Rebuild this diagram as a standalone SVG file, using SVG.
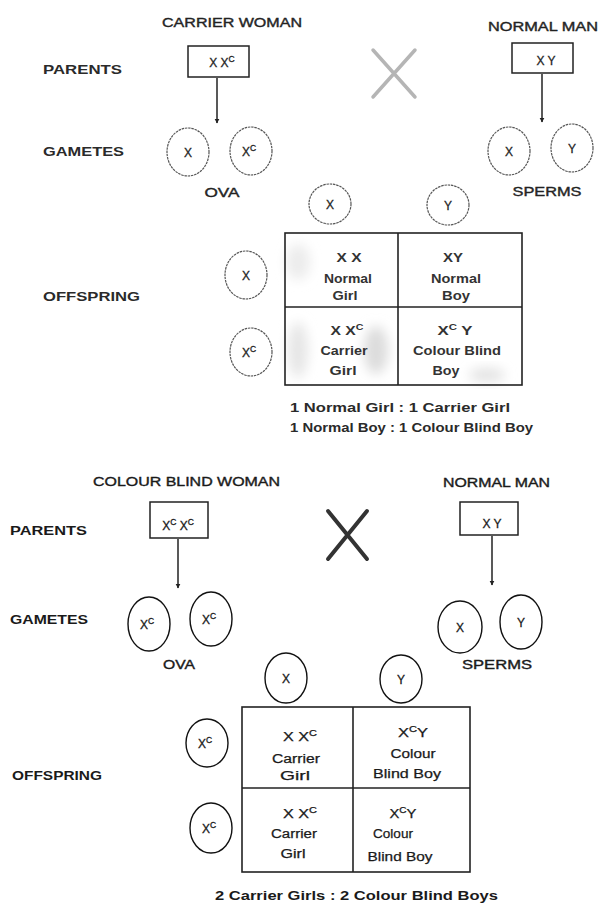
<svg xmlns="http://www.w3.org/2000/svg" width="600" height="903" viewBox="0 0 600 903">
<style>
  text { font-family: "Liberation Sans", Arial, sans-serif; fill: #1a1a1a; }
  .lbl { font-size: 12px; font-weight: bold; }
  .hdr { font-size: 12px; stroke: #1a1a1a; stroke-width: 0.35; }
  .cell { font-size: 12.5px; text-anchor: middle; stroke: #1a1a1a; stroke-width: 0.25; }
  .top .cell { font-weight: bold; fill: #333; stroke: none; }
  .circ { font-size: 12px; text-anchor: middle; stroke: #1a1a1a; stroke-width: 0.3; }
  .ratio { font-size: 12.5px; font-weight: bold; }
  .sup { font-size: 8.5px; }
  .g1 ellipse { fill: none; stroke: #555; stroke-width: 1.2; stroke-dasharray: 2.5 0.8; }
  .g2 ellipse { fill: none; stroke: #111; stroke-width: 1.4; }
  .box { fill: none; stroke: #222; stroke-width: 1.5; }
  .grid { fill: none; stroke: #222; stroke-width: 1.6; }
  .arrow { stroke: #222; stroke-width: 1.5; marker-end: url(#ah); }
  .top text { fill: #2a2a2a; }
</style>
<defs>
  <marker id="ah" viewBox="0 0 8 10" refX="7" refY="5" markerWidth="5" markerHeight="6" orient="auto" markerUnits="userSpaceOnUse">
    <path d="M0,1 L8,5 L0,9 z" fill="#222"/>
  </marker>
  <filter id="blur" x="-50%" y="-50%" width="200%" height="200%">
    <feGaussianBlur stdDeviation="6"/>
  </filter>
</defs>

<rect width="600" height="903" fill="#ffffff"/>

<!-- ================= TOP CROSS ================= -->
<g class="top">
  <g id="lbl-parents-1"><text class="lbl" x="43" y="74" textLength="79" lengthAdjust="spacingAndGlyphs">PARENTS</text></g>
  <g id="lbl-gametes-1"><text class="lbl" x="43" y="156" textLength="81" lengthAdjust="spacingAndGlyphs">GAMETES</text></g>
  <g id="lbl-offspring-1"><text class="lbl" x="43" y="301" textLength="97" lengthAdjust="spacingAndGlyphs">OFFSPRING</text></g>

  <g id="carrier-woman">
    <text class="hdr" x="162" y="27" textLength="140" lengthAdjust="spacingAndGlyphs">CARRIER WOMAN</text>
    <rect class="box" x="188" y="46" width="61" height="31"/>
    <text class="circ" x="222" y="67">X X<tspan class="sup" dy="-5">C</tspan></text>
  </g>
  <g id="normal-man-1">
    <text class="hdr" x="488" y="31" textLength="110" lengthAdjust="spacingAndGlyphs">NORMAL MAN</text>
    <rect class="box" x="512" y="43" width="61" height="30"/>
    <text class="circ" x="546" y="65">X Y</text>
  </g>
  <g id="cross-1">
    <path d="M373,50 L415,97 M415,50 L373,97" stroke="#b5b5b5" stroke-width="3.5" stroke-linecap="round" fill="none"/>
  </g>

  <g id="ova-1" class="g1">
    <ellipse cx="188" cy="152" rx="21" ry="24"/>
    <text class="circ" x="188" y="157">X</text>
    <ellipse cx="251" cy="151" rx="21" ry="24"/>
    <text class="circ" x="249" y="156">X<tspan class="sup" dy="-5">C</tspan></text>
    <text class="hdr" x="222" y="197" text-anchor="middle" textLength="35" lengthAdjust="spacingAndGlyphs">OVA</text>
  </g>
  <g id="sperms-1" class="g1">
    <ellipse cx="509" cy="151" rx="21" ry="24"/>
    <text class="circ" x="509" y="156">X</text>
    <ellipse cx="572" cy="148" rx="21" ry="24"/>
    <text class="circ" x="572" y="153">Y</text>
    <text class="hdr" x="547" y="196" text-anchor="middle" textLength="69" lengthAdjust="spacingAndGlyphs">SPERMS</text>
  </g>

  <g id="punnett-1-heads" class="g1">
    <ellipse cx="330" cy="204" rx="21" ry="20"/>
    <text class="circ" x="330" y="209">X</text>
    <ellipse cx="448" cy="205" rx="21" ry="20"/>
    <text class="circ" x="448" y="210">Y</text>
    <ellipse cx="246" cy="275" rx="21" ry="24"/>
    <text class="circ" x="246" y="280">X</text>
    <ellipse cx="251" cy="352" rx="21" ry="24"/>
    <text class="circ" x="249" y="357">X<tspan class="sup" dy="-5">C</tspan></text>
  </g>

  <g id="punnett-1">
    <ellipse cx="298" cy="262" rx="12" ry="18" fill="#ececec" filter="url(#blur)"/>
    <ellipse cx="298" cy="350" rx="10" ry="28" fill="#e6e6e6" filter="url(#blur)"/>
    <ellipse cx="376" cy="350" rx="12" ry="24" fill="#dcdcdc" filter="url(#blur)"/>
    <ellipse cx="487" cy="375" rx="18" ry="7" fill="#e2e2e2" filter="url(#blur)"/>
    <rect class="grid" x="285" y="233" width="237" height="152"/>
    <line class="grid" x1="398" y1="233" x2="398" y2="385"/>
    <line class="grid" x1="285" y1="307" x2="522" y2="307"/>
    <text class="cell" x="349" y="262" textLength="25" lengthAdjust="spacingAndGlyphs">X X</text>
    <text class="cell" x="348" y="283" textLength="48" lengthAdjust="spacingAndGlyphs">Normal</text>
    <text class="cell" x="345" y="300" textLength="25" lengthAdjust="spacingAndGlyphs">Girl</text>
    <text class="cell" x="453" y="262" textLength="20" lengthAdjust="spacingAndGlyphs">XY</text>
    <text class="cell" x="456" y="283" textLength="50" lengthAdjust="spacingAndGlyphs">Normal</text>
    <text class="cell" x="456" y="300" textLength="28" lengthAdjust="spacingAndGlyphs">Boy</text>
    <text class="cell" x="347" y="335" textLength="33" lengthAdjust="spacingAndGlyphs">X X<tspan class="sup" dy="-5">C</tspan></text>
    <text class="cell" x="344" y="355" textLength="47" lengthAdjust="spacingAndGlyphs">Carrier</text>
    <text class="cell" x="343" y="375" textLength="27" lengthAdjust="spacingAndGlyphs">Girl</text>
    <text class="cell" x="455" y="335" textLength="35" lengthAdjust="spacingAndGlyphs">X<tspan class="sup" dy="-5">C</tspan><tspan dy="5"> Y</tspan></text>
    <text class="cell" x="457" y="355" textLength="88" lengthAdjust="spacingAndGlyphs">Colour Blind</text>
    <text class="cell" x="446" y="375" textLength="27" lengthAdjust="spacingAndGlyphs">Boy</text>
  </g>

  <g id="ratio-1">
    <text class="ratio" x="290" y="412" textLength="220" lengthAdjust="spacingAndGlyphs">1 Normal Girl : 1 Carrier Girl</text>
    <text class="ratio" x="290" y="432" textLength="243" lengthAdjust="spacingAndGlyphs">1 Normal Boy : 1 Colour Blind Boy</text>
  </g>
</g>

<!-- ================= BOTTOM CROSS ================= -->
<g class="bottom">
  <g id="lbl-parents-2"><text class="lbl" x="10" y="535" textLength="77" lengthAdjust="spacingAndGlyphs">PARENTS</text></g>
  <g id="lbl-gametes-2"><text class="lbl" x="10" y="624" textLength="78" lengthAdjust="spacingAndGlyphs">GAMETES</text></g>
  <g id="lbl-offspring-2"><text class="lbl" x="12" y="780" textLength="90" lengthAdjust="spacingAndGlyphs">OFFSPRING</text></g>

  <g id="colour-blind-woman">
    <text class="hdr" x="93" y="486" textLength="187" lengthAdjust="spacingAndGlyphs">COLOUR BLIND WOMAN</text>
    <rect class="box" x="150" y="502" width="58" height="36"/>
    <text class="circ" x="178" y="530">X<tspan class="sup" dy="-5">C</tspan><tspan dy="5"> X</tspan><tspan class="sup" dy="-5">C</tspan></text>
  </g>
  <g id="normal-man-2">
    <text class="hdr" x="443" y="487" textLength="107" lengthAdjust="spacingAndGlyphs">NORMAL MAN</text>
    <rect class="box" x="460" y="502" width="58" height="33"/>
    <text class="circ" x="492" y="528">X Y</text>
  </g>
  <g id="cross-2">
    <path d="M328,511 L367,559 M367,511 L328,559" stroke="#333" stroke-width="4" stroke-linecap="round" fill="none"/>
  </g>

  <g id="ova-2" class="g2">
    <ellipse cx="149" cy="624" rx="21" ry="27"/>
    <text class="circ" x="147" y="629">X<tspan class="sup" dy="-5">C</tspan></text>
    <ellipse cx="211" cy="619" rx="21" ry="27"/>
    <text class="circ" x="209" y="624">X<tspan class="sup" dy="-5">C</tspan></text>
    <text class="hdr" x="179" y="669" text-anchor="middle" textLength="32" lengthAdjust="spacingAndGlyphs">OVA</text>
  </g>
  <g id="sperms-2" class="g2">
    <ellipse cx="460" cy="627" rx="22" ry="26"/>
    <text class="circ" x="460" y="632">X</text>
    <ellipse cx="521" cy="622" rx="21" ry="27"/>
    <text class="circ" x="521" y="627">Y</text>
    <text class="hdr" x="497" y="669" text-anchor="middle" textLength="70" lengthAdjust="spacingAndGlyphs">SPERMS</text>
  </g>

  <g id="punnett-2-heads" class="g2">
    <ellipse cx="286" cy="678" rx="21" ry="25"/>
    <text class="circ" x="286" y="683">X</text>
    <ellipse cx="401" cy="679" rx="21" ry="24"/>
    <text class="circ" x="401" y="684">Y</text>
    <ellipse cx="207" cy="743" rx="21" ry="24"/>
    <text class="circ" x="205" y="748">X<tspan class="sup" dy="-5">C</tspan></text>
    <ellipse cx="211" cy="828" rx="21" ry="25"/>
    <text class="circ" x="209" y="833">X<tspan class="sup" dy="-5">C</tspan></text>
  </g>

  <g id="punnett-2">
    <rect class="grid" x="242" y="707" width="228" height="165"/>
    <line class="grid" x1="353" y1="707" x2="353" y2="872"/>
    <line class="grid" x1="242" y1="788" x2="470" y2="788"/>
    <text class="cell" x="300" y="741" textLength="34" lengthAdjust="spacingAndGlyphs">X X<tspan class="sup" dy="-5">C</tspan></text>
    <text class="cell" x="296" y="763" textLength="48" lengthAdjust="spacingAndGlyphs">Carrier</text>
    <text class="cell" x="295" y="780" textLength="30" lengthAdjust="spacingAndGlyphs">Girl</text>
    <text class="cell" x="413" y="737" textLength="30" lengthAdjust="spacingAndGlyphs">X<tspan class="sup" dy="-5">C</tspan><tspan dy="5">Y</tspan></text>
    <text class="cell" x="413" y="758" textLength="45" lengthAdjust="spacingAndGlyphs">Colour</text>
    <text class="cell" x="407" y="778" textLength="68" lengthAdjust="spacingAndGlyphs">Blind Boy</text>
    <text class="cell" x="300" y="818" textLength="34" lengthAdjust="spacingAndGlyphs">X X<tspan class="sup" dy="-5">C</tspan></text>
    <text class="cell" x="294" y="838" textLength="46" lengthAdjust="spacingAndGlyphs">Carrier</text>
    <text class="cell" x="293" y="858" textLength="25" lengthAdjust="spacingAndGlyphs">Girl</text>
    <text class="cell" x="403" y="818" textLength="27" lengthAdjust="spacingAndGlyphs">X<tspan class="sup" dy="-5">C</tspan><tspan dy="5">Y</tspan></text>
    <text class="cell" x="393" y="838" textLength="40" lengthAdjust="spacingAndGlyphs">Colour</text>
    <text class="cell" x="400" y="861" textLength="65" lengthAdjust="spacingAndGlyphs">Blind Boy</text>
  </g>

  <g id="ratio-2">
    <text class="ratio" x="215" y="900" textLength="283" lengthAdjust="spacingAndGlyphs">2  Carrier Girls  :  2 Colour Blind Boys</text>
  </g>
</g>

<!-- ================= CONNECTORS ================= -->
<g id="connectors">
  <line class="arrow" x1="217" y1="78" x2="217" y2="123"/>
  <line class="arrow" x1="542" y1="74" x2="542" y2="122"/>
  <line class="arrow" x1="178" y1="539" x2="178" y2="588"/>
  <line class="arrow" x1="492" y1="536" x2="492" y2="585"/>
</g>
</svg>
